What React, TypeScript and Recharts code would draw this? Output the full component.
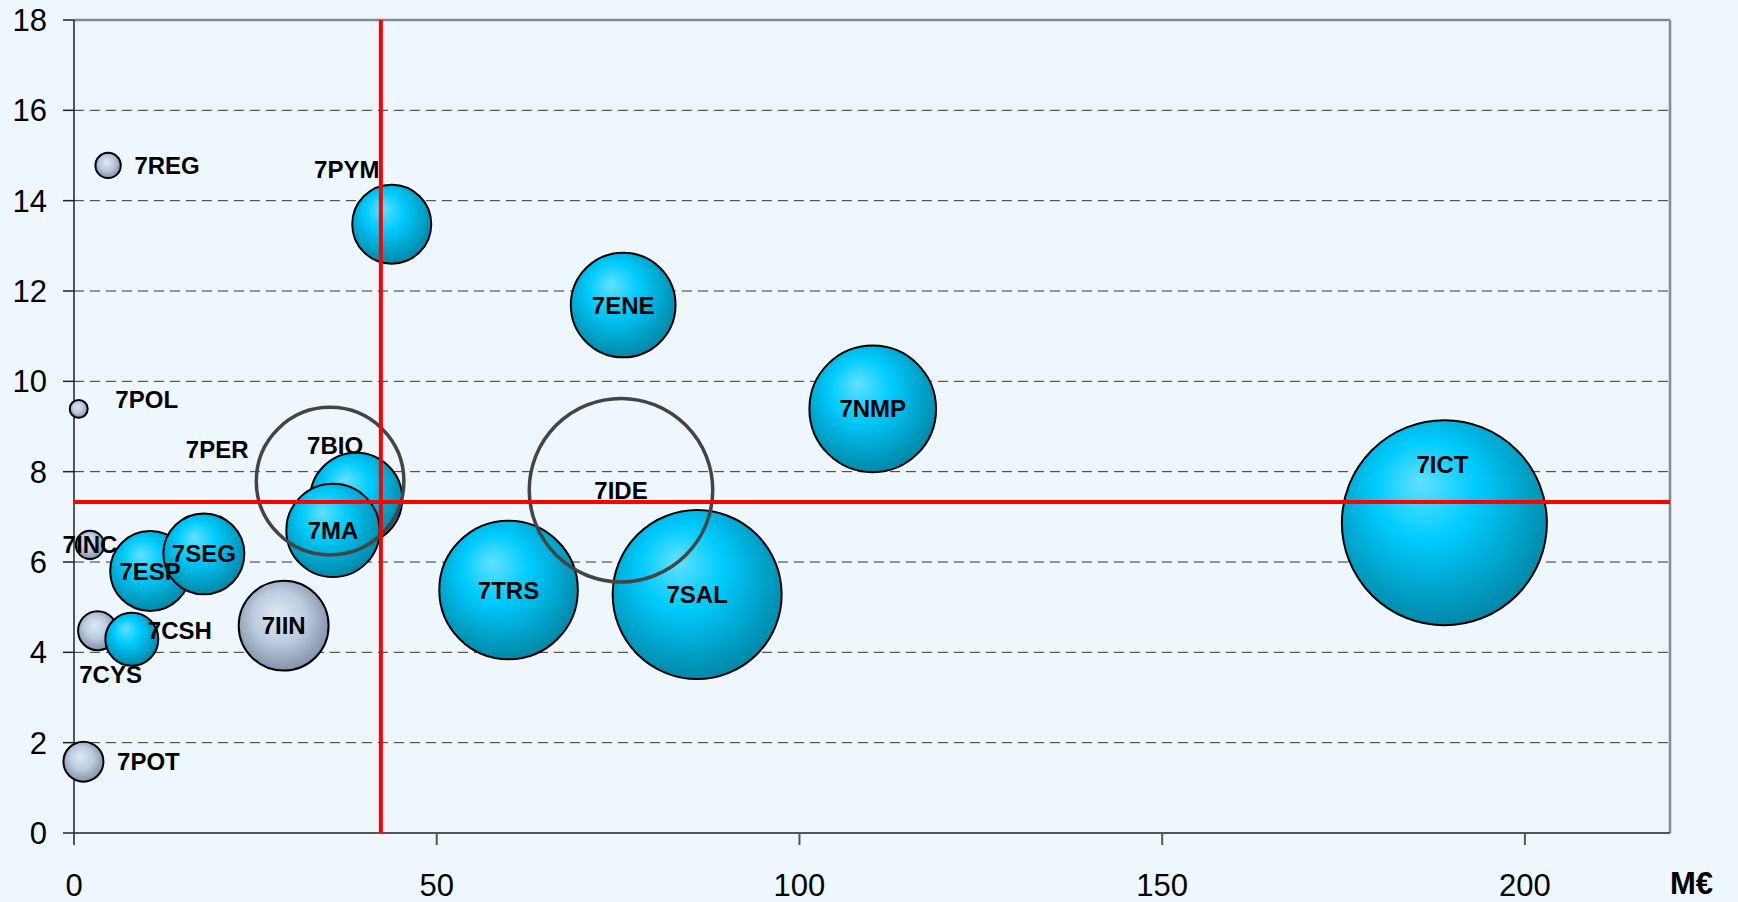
import React from "react";
import {
  ScatterChart,
  Scatter,
  XAxis,
  YAxis,
  ZAxis,
  CartesianGrid,
  ReferenceLine,
} from "recharts";

// filled blue bubbles
const BLUE_NAMES = ["7ESP", "7SEG", "7CSH", "7PER", "7MA", "7PYM", "7ENE", "7TRS", "7SAL", "7NMP", "7ICT"];
const BLUE_X = [10.5, 17.9, 7.97, 38.9, 35.7, 43.8, 75.7, 59.9, 85.9, 110.1, 188.9];
const BLUE_Y = [5.8, 6.18, 4.29, 7.4, 6.7, 13.48, 11.69, 5.38, 5.28, 9.39, 6.87];
const BLUE_Z = [160, 164, 70, 212, 218, 156, 274, 480, 714, 401, 1051];

// grey bubbles
const GRAY_NAMES = ["7REG", "7POL", "7INC", "7CYS", "7IIN", "7POT"];
const GRAY_X = [4.7, 0.65, 2.2, 3.25, 28.9, 1.3];
const GRAY_Y = [14.78, 9.39, 6.38, 4.48, 4.59, 1.58];
const GRAY_Z = [16, 8, 20, 38, 202, 40];

// empty circles
const HOLLOW_NAMES = ["7BIO", "7IDE"];
const HOLLOW_X = [35.3, 75.4];
const HOLLOW_Y = [7.79, 7.59];
const HOLLOW_Z = [567, 870];

const X_TICKS = [0, 50, 100, 150, 200];
const Y_TICKS = [0, 2, 4, 6, 8, 10, 12, 14, 16, 18];
const AVG_X = 42.3;
const AVG_Y = 7.33;

// label placement relative to bubble centre (px)
const LABEL_OFFSET: Record<string, [number, number]> = {
  "7REG": [59, 0],
  "7PYM": [-45, -55],
  "7ICT": [-2, -58],
  "7POL": [68, -9],
  "7PER": [-139, -49],
  "7BIO": [5, -36],
  "7CYS": [13, 44],
  "7CSH": [48, -9],
  "7POT": [65, 0],
};

const BG = "#edf7fd";
const FONT = "'Liberation Sans', Arial, sans-serif";

const zip = (names: string[], xs: number[], ys: number[], zs: number[]) =>
  names.map((name, i) => ({ name, x: xs[i], y: ys[i], z: zs[i] }));

const blueData = zip(BLUE_NAMES, BLUE_X, BLUE_Y, BLUE_Z);
const grayData = zip(GRAY_NAMES, GRAY_X, GRAY_Y, GRAY_Z);
const hollowData = zip(HOLLOW_NAMES, HOLLOW_X, HOLLOW_Y, HOLLOW_Z);
const allData = [...grayData, ...blueData, ...hollowData];

const Bubble = (fill: string) => (props: any) => {
  const { cx, cy, width } = props;
  return <circle cx={cx} cy={cy} r={width / 2} fill={fill} stroke="#000" strokeWidth={2} />;
};

const Ring = (props: any) => {
  const { cx, cy, width } = props;
  return <circle cx={cx} cy={cy} r={width / 2 - 1.5} fill="none" stroke="#444" strokeWidth={3.5} />;
};

const Label = (props: any) => {
  const { cx, cy, payload } = props;
  const [dx, dy] = LABEL_OFFSET[payload.name] || [0, 0];
  return (
    <text
      x={cx + dx}
      y={cy + dy}
      textAnchor="middle"
      dominantBaseline="central"
      fontFamily={FONT}
      fontWeight="bold"
      fontSize={24}
      fill="#000"
    >
      {payload.name}
    </text>
  );
};

export default function App() {
  const tick = { fontFamily: FONT, fontSize: 31, fill: "#000" };
  return (
    <div style={{ position: "fixed", left: 0, top: 0, width: 1738, height: 902, background: BG }}>
      <ScatterChart width={1738} height={902} margin={{ top: 20, right: 68, left: 0, bottom: 0 }}>
        <defs>
          <radialGradient id="blueGrad" cx="45%" cy="40%" r="60%" fx="38%" fy="30%">
            <stop offset="0%" stopColor="#62e0ff" />
            <stop offset="40%" stopColor="#00ccff" />
            <stop offset="100%" stopColor="#0088a8" />
          </radialGradient>
          <radialGradient id="grayGrad" cx="48%" cy="45%" r="58%" fx="42%" fy="36%">
            <stop offset="0%" stopColor="#dde8f4" />
            <stop offset="50%" stopColor="#bccbdf" />
            <stop offset="100%" stopColor="#7d8ca2" />
          </radialGradient>
        </defs>
        <CartesianGrid vertical={false} stroke="#333" strokeDasharray="10 6" fill={BG} />
        <XAxis
          type="number"
          dataKey="x"
          domain={[0, 220]}
          ticks={X_TICKS}
          tick={tick}
          tickSize={12}
          tickMargin={29}
          height={69}
          axisLine={{ stroke: "#555", strokeWidth: 2 }}
          tickLine={{ stroke: "#555", strokeWidth: 2 }}
        />
        <YAxis
          type="number"
          dataKey="y"
          domain={[0, 18]}
          ticks={Y_TICKS}
          tick={tick}
          width={74}
          tickSize={11}
          tickMargin={16}
          axisLine={{ stroke: "#222", strokeWidth: 1.5 }}
          tickLine={{ stroke: "#222", strokeWidth: 1.5 }}
        />
        <ZAxis type="number" dataKey="z" domain={[0, 1051]} range={[0, Math.PI * 102.5 * 102.5]} />
        <ReferenceLine y={18} stroke="#888" strokeWidth={2.5} />
        <ReferenceLine x={220} stroke="#888" strokeWidth={2.5} />
        <Scatter data={grayData} shape={Bubble("url(#grayGrad)")} isAnimationActive={false} />
        <Scatter data={blueData} shape={Bubble("url(#blueGrad)")} isAnimationActive={false} />
        <Scatter data={hollowData} shape={Ring} isAnimationActive={false} />
        <Scatter data={allData} shape={Label} isAnimationActive={false} />
        <ReferenceLine x={AVG_X} stroke="#ff0000" strokeWidth={4} zIndex={1500} />
        <ReferenceLine y={AVG_Y} stroke="#ff0000" strokeWidth={4} zIndex={1500} />
      </ScatterChart>
      <div
        style={{
          position: "absolute",
          left: 1670,
          top: 866,
          fontFamily: FONT,
          fontWeight: "bold",
          fontSize: 31,
          lineHeight: "36px",
        }}
      >
        M€
      </div>
    </div>
  );
}
